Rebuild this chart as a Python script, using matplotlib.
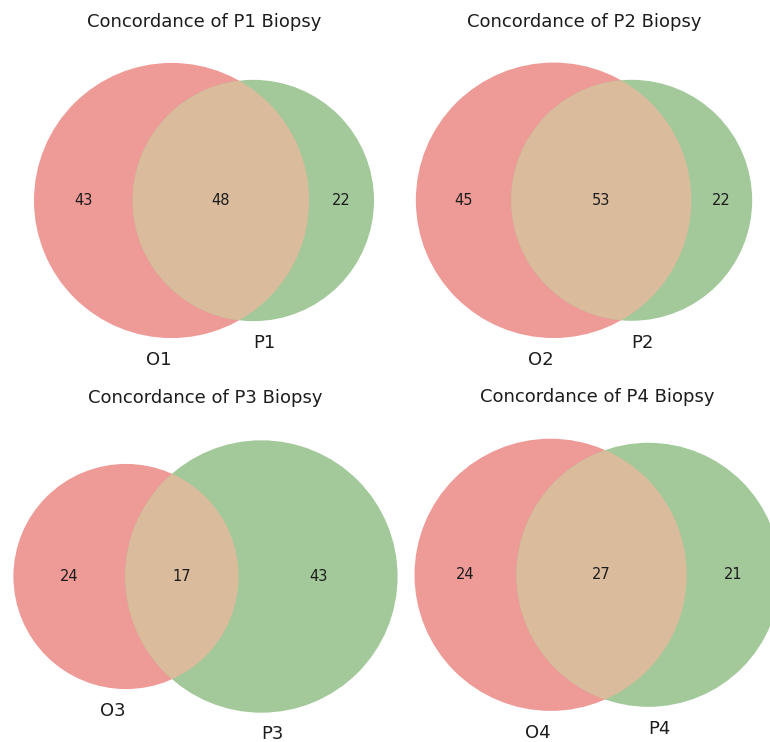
import numpy as np
import matplotlib
matplotlib.use("Agg")
import matplotlib.pyplot as plt
from matplotlib.patches import Circle

# Subset sizes for each biopsy comparison
titles = ["Concordance of P1 Biopsy", "Concordance of P2 Biopsy",
          "Concordance of P3 Biopsy", "Concordance of P4 Biopsy"]
left_names = ["O1", "O2", "O3", "O4"]
right_names = ["P1", "P2", "P3", "P4"]
only_left = [43, 45, 24, 24]
only_right = [22, 22, 43, 21]
shared = [48, 53, 17, 27]

COLOR_LEFT = "#ee9b98"
COLOR_RIGHT = "#a3c99b"
COLOR_SHARED = "#dabb9c"
TEXT_COLOR = "#1c1c1c"

FIG_W, FIG_H, DPI = 770, 742, 100
# Panel placement (pixel centre of each axes, axes height)
PANEL_CX = [204, 584, 205.5, 597.5]
PANEL_CY = [200.5, 200.3, 576.5, 574.8]
PANEL_H = 329.5
SLOT_W = 620


def overlap_area(r1, r2, d):
    if d >= r1 + r2:
        return 0.0
    if d <= abs(r1 - r2):
        return np.pi * min(r1, r2) ** 2
    a1 = r1 ** 2 * np.arccos((d ** 2 + r1 ** 2 - r2 ** 2) / (2 * d * r1))
    a2 = r2 ** 2 * np.arccos((d ** 2 + r2 ** 2 - r1 ** 2) / (2 * d * r2))
    k = 0.5 * np.sqrt((-d + r1 + r2) * (d + r1 - r2) * (d - r1 + r2) * (d + r1 + r2))
    return a1 + a2 - k


def distance_for_area(r1, r2, target):
    lo, hi = abs(r1 - r2), r1 + r2
    for _ in range(200):
        mid = 0.5 * (lo + hi)
        if overlap_area(r1, r2, mid) > target:
            lo = mid
        else:
            hi = mid
    return 0.5 * (lo + hi)


def venn_layout(a_only, b_only, ab):
    total = float(a_only + b_only + ab)
    area_a = (a_only + ab) / total
    area_b = (b_only + ab) / total
    area_ab = ab / total
    ra, rb = np.sqrt(area_a / np.pi), np.sqrt(area_b / np.pi)
    d = distance_for_area(ra, rb, area_ab)
    xs = np.array([0.0, d])
    w = np.array([ra ** 2, rb ** 2])
    xs -= np.sum(xs * w) / np.sum(w)
    return xs, np.array([ra, rb])


fig = plt.figure(figsize=(FIG_W / DPI, FIG_H / DPI), dpi=DPI)
fig.patch.set_facecolor("white")

for i in range(4):
    cx, cy = PANEL_CX[i], PANEL_CY[i]
    ax = fig.add_axes([(cx - SLOT_W / 2) / FIG_W, 1 - (cy + PANEL_H / 2) / FIG_H,
                       SLOT_W / FIG_W, PANEL_H / FIG_H])
    xs, radii = venn_layout(only_left[i], only_right[i], shared[i])
    ca, cb = xs
    ra, rb = radii

    circ_a = Circle((ca, 0), ra, facecolor=COLOR_LEFT, edgecolor="none")
    circ_b = Circle((cb, 0), rb, facecolor=COLOR_RIGHT, edgecolor="none")
    ax.add_patch(circ_a)
    ax.add_patch(circ_b)
    inter = Circle((cb, 0), rb, facecolor=COLOR_SHARED, edgecolor="none")
    ax.add_patch(inter)
    clip = Circle((ca, 0), ra, transform=ax.transData)
    inter.set_clip_path(clip)

    # subset labels at the middle of each region along the centre line
    x_left = ((ca - ra) + (cb - rb)) / 2
    x_mid = ((cb - rb) + (ca + ra)) / 2
    x_right = ((ca + ra) + (cb + rb)) / 2
    for x, v in zip([x_left, x_mid, x_right], [only_left[i], shared[i], only_right[i]]):
        ax.text(x, 0, str(v), ha="center", va="center", fontsize=10.5, color=TEXT_COLOR)

    pad = np.mean(radii * 0.1)
    ax.text(ca, -ra - pad, left_names[i], ha="right", va="top", fontsize=13, color=TEXT_COLOR)
    ax.text(cb, -rb - pad, right_names[i], ha="left", va="top", fontsize=13, color=TEXT_COLOR)

    min_x = min(ca - ra, cb - rb)
    max_x = max(ca + ra, cb + rb)
    rmax = max(ra, rb)
    ax.set_xlim(min_x - 0.1, max_x + 0.1)
    ax.set_ylim(-rmax - 0.1, rmax + 0.1)
    ax.set_aspect("equal", adjustable="box", anchor="C")
    ax.set_axis_off()
    ax.set_title(titles[i], fontsize=13, color=TEXT_COLOR, pad=6)

fig.savefig("out.png", dpi=DPI, facecolor="white")
